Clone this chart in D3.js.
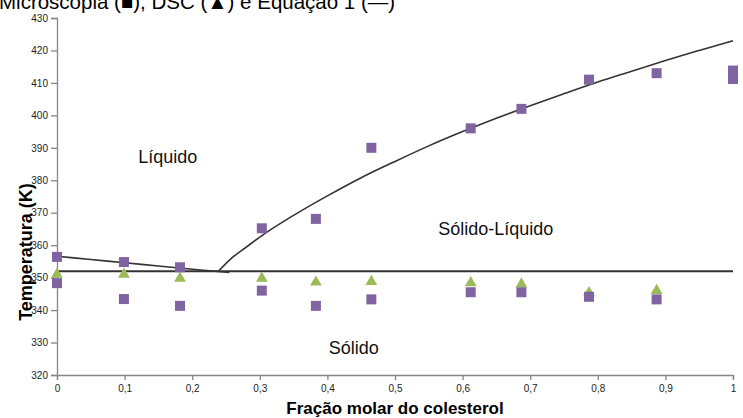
<!DOCTYPE html>
<html><head><meta charset="utf-8">
<script src="https://cdn.jsdelivr.net/npm/d3@7/dist/d3.min.js"></script>
<style>
html,body{margin:0;padding:0;background:#fff;overflow:hidden}
svg{display:block;font-family:"Liberation Sans",Arial,sans-serif}
</style></head>
<body><svg id="c" width="743" height="418"></svg>
<script>
// Microscopia (squares): liquidus (upper) points
const microUpperX = [0, 0.099, 0.182, 0.303, 0.383, 0.465, 0.612, 0.687, 0.787, 0.887, 1.0, 1.0];
const microUpperT = [356.4, 354.8, 353.2, 365.2, 368.1, 390, 396, 402, 411, 413, 413.8, 411.2];
// Microscopia (squares): solidus (lower) points
const microLowerX = [0, 0.099, 0.182, 0.303, 0.383, 0.465, 0.612, 0.687, 0.787, 0.887];
const microLowerT = [348.3, 343.4, 341.3, 346.0, 341.3, 343.3, 345.5, 345.5, 344.1, 343.3];
// DSC (triangles)
const dscX = [0, 0.099, 0.182, 0.303, 0.383, 0.465, 0.612, 0.687, 0.787, 0.887];
const dscT = [351.0, 351.0, 349.8, 349.8, 348.6, 348.8, 348.4, 348.0, 345.3, 346.0];
// Equação 1: left branch
const eqLeftX = [0, 0.05, 0.1, 0.15, 0.2, 0.255];
const eqLeftT = [356.6, 355.6, 354.6, 353.6, 352.6, 351.6];
// Equação 1: right branch
const eqRightX = [0.238, 0.26, 0.28, 0.30, 0.35, 0.40, 0.45, 0.50, 0.55, 0.60, 0.65, 0.70, 0.75, 0.80, 0.85, 0.90, 0.95, 1.00];
const eqRightT = [351.8, 356.3, 359.4, 362.5, 369.2, 375.2, 380.8, 385.8, 390.6, 395.0, 399.1, 403.0, 406.7, 410.3, 413.6, 416.9, 420.0, 423.0];
// Eutectic line
const eutecticT = 352;
// Axes
const xTicks = [0, 0.1, 0.2, 0.3, 0.4, 0.5, 0.6, 0.7, 0.8, 0.9, 1];
const yTicks = [320, 330, 340, 350, 360, 370, 380, 390, 400, 410, 420, 430];
const titleText = "Microscopia (\u25A0), DSC (\u25B2) e Equação 1 (\u2014)";
const xTitle = "Fração molar do colesterol";
const yTitle = "Temperatura (K)";
const regionLabels = [
  {text: "Líquido", x: 0.164, t: 385.3},
  {text: "Sólido-Líquido", x: 0.649, t: 363.1},
  {text: "Sólido", x: 0.439, t: 326.5}
];

const svg = d3.select("#c");
const x = d3.scaleLinear().domain([0, 1]).range([57, 733]);
const y = d3.scaleLinear().domain([320, 430]).range([375, 18]);
const axisColor = "#868686";

// title (cropped at top)
svg.append("text").attr("x", -1).attr("y", 9).attr("font-size", 20.5)
  .attr("fill", "#000").text(titleText);

// axes
const yAxis = d3.axisLeft(y).tickValues(yTicks).tickSize(6).tickPadding(3).tickFormat(d3.format("d"));
const gy = svg.append("g").attr("transform", `translate(${x(0)},0)`).call(yAxis);
const xAxis = d3.axisBottom(x).tickValues(xTicks).tickSize(5).tickPadding(5)
  .tickFormat(d => d3.format("")(d).replace(".", ","));
const gx = svg.append("g").attr("transform", `translate(0,${y(320)})`).call(xAxis);
[gx, gy].forEach(g => {
  g.select(".domain").attr("stroke", axisColor).attr("stroke-width", 1.3);
  g.selectAll(".tick line").attr("stroke", axisColor).attr("stroke-width", 1.3);
  g.selectAll(".tick text").attr("fill", "#222").attr("font-size", 10)
    .attr("font-family", "Liberation Sans, Arial, sans-serif");
});

// axis titles
svg.append("text").attr("x", 395).attr("y", 414).attr("text-anchor", "middle")
  .attr("font-size", 17).attr("font-weight", "bold").text(xTitle);
svg.append("text").attr("transform", "translate(32,252) rotate(-90)").attr("text-anchor", "middle")
  .attr("font-size", 18).attr("font-weight", "bold").text(yTitle);

// region labels
regionLabels.forEach(r => {
  svg.append("text").attr("x", x(r.x)).attr("y", y(r.t)).attr("text-anchor", "middle")
    .attr("font-size", 18).attr("fill", "#111").text(r.text);
});

// eutectic line
svg.append("line").attr("x1", x(0)).attr("x2", x(1))
  .attr("y1", y(eutecticT)).attr("y2", y(eutecticT))
  .attr("stroke", "#333").attr("stroke-width", 2);

// equation curves
const line = d3.line().x(d => x(d[0])).y(d => y(d[1])).curve(d3.curveMonotoneX);
svg.append("path").datum(d3.zip(eqLeftX, eqLeftT)).attr("d", line)
  .attr("fill", "none").attr("stroke", "#333").attr("stroke-width", 1.6);
svg.append("path").datum(d3.zip(eqRightX, eqRightT)).attr("d", line)
  .attr("fill", "none").attr("stroke", "#333").attr("stroke-width", 1.6);

// DSC triangles
const tri = d3.symbol().type(d3.symbolTriangle).size(60);
svg.append("g").selectAll("path").data(d3.zip(dscX, dscT)).join("path")
  .attr("d", tri).attr("transform", d => `translate(${x(d[0])},${y(d[1])})`)
  .attr("fill", "#9BBB59");

// Microscopia squares
const sq = 10;
const allSquares = d3.zip(microUpperX, microUpperT).concat(d3.zip(microLowerX, microLowerT));
svg.append("g").selectAll("rect").data(allSquares).join("rect")
  .attr("x", d => x(d[0]) - sq / 2).attr("y", d => y(d[1]) - sq / 2)
  .attr("width", sq).attr("height", sq).attr("fill", "#8064A2");
</script></body></html>
